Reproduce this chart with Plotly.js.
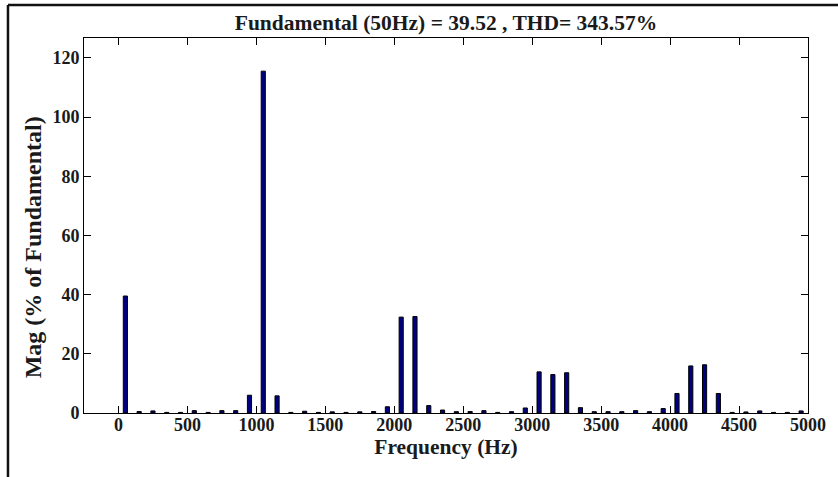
<!DOCTYPE html>
<html>
<head>
<meta charset="utf-8">
<script src="https://cdn.plot.ly/plotly-3.0.1.min.js"></script>
<style>
  html, body { margin: 0; padding: 0; background: #fff; }
  #chart { width: 838px; height: 477px; }
</style>
</head>
<body>
<div id="chart"></div>
<script>
// Harmonic spectrum: odd harmonics of 50 Hz, magnitude in % of fundamental
const freqHz = [
  50, 150, 250, 350, 450, 550, 650, 750, 850, 950,
  1050, 1150, 1250, 1350, 1450, 1550, 1650, 1750, 1850, 1950,
  2050, 2150, 2250, 2350, 2450, 2550, 2650, 2750, 2850, 2950,
  3050, 3150, 3250, 3350, 3450, 3550, 3650, 3750, 3850, 3950,
  4050, 4150, 4250, 4350, 4450, 4550, 4650, 4750, 4850, 4950
];
const magPct = [
  39.52, 0.5, 0.7, 0.2, 0.2, 0.8, 0.2, 0.8, 0.8, 6.0,
  115.5, 5.8, 0.2, 0.6, 0.2, 0.4, 0.2, 0.4, 0.5, 2.1,
  32.4, 32.6, 2.5, 1.0, 0.45, 0.5, 0.8, 0.2, 0.45, 1.7,
  13.9, 13.0, 13.6, 1.8, 0.45, 0.45, 0.45, 0.8, 0.45, 1.5,
  6.6, 15.9, 16.3, 6.6, 0.2, 0.35, 0.7, 0.2, 0.2, 0.7
];
const xTicks = [0, 500, 1000, 1500, 2000, 2500, 3000, 3500, 4000, 4500, 5000];
const yTicks = [0, 20, 40, 60, 80, 100, 120];
const titleText = 'Fundamental (50Hz) = 39.52 , THD= 343.57%';
const xLabel = 'Frequency (Hz)';
const yLabel = 'Mag (% of Fundamental)';

const serif = 'Liberation Serif, Times New Roman, serif';
const ink = '#1a1a1a';

const trace = {
  type: 'bar',
  x: freqHz,
  y: magPct,
  width: 30,
  marker: { color: '#000080', line: { color: '#000000', width: 1 } },
  hoverinfo: 'x+y'
};

const axisCommon = {
  showline: true,
  linecolor: '#000',
  linewidth: 1,
  mirror: 'ticks',
  ticks: 'inside',
  ticklen: 7,
  tickwidth: 1,
  tickcolor: '#000',
  showgrid: false,
  zeroline: false,
  tickfont: { family: serif, size: 18, color: ink, weight: 'bold' }
};

const layout = {
  width: 838,
  height: 477,
  paper_bgcolor: '#fff',
  plot_bgcolor: '#fff',
  margin: { l: 84, r: 30, t: 38, b: 63.5 },
  showlegend: false,
  font: { family: serif, color: ink, weight: 'bold' },
  title: {
    text: titleText,
    font: { family: serif, size: 21.5, color: ink, weight: 'bold' },
    x: 0.5, xref: 'paper', xanchor: 'center',
    y: 0.952, yref: 'container', yanchor: 'middle'
  },
  xaxis: Object.assign({}, axisCommon, {
    range: [-250, 5000],
    tickmode: 'array',
    tickvals: xTicks,
    ticktext: xTicks.map(String),
    ticklabelstandoff: -5,
    title: { text: xLabel, font: { family: serif, size: 21.5, color: ink, weight: 'bold' }, standoff: 0 }
  }),
  yaxis: Object.assign({}, axisCommon, {
    range: [0, 126.7],
    tickmode: 'array',
    tickvals: yTicks,
    ticktext: yTicks.map(String)
  }),
  annotations: [
    // vertical axis label, sitting a little below the axis midpoint
    { text: yLabel, textangle: -90, showarrow: false,
      xref: 'paper', yref: 'paper', x: -0.0704, y: 0.442,
      xanchor: 'center', yanchor: 'middle',
      font: { family: serif, size: 24, color: ink, weight: 'bold' } }
  ],
  shapes: [
    // outer figure frame (top and left edges)
    { type: 'line', xref: 'paper', yref: 'paper', x0: -0.105, x1: 1.2, y0: 1.088, y1: 1.088,
      line: { color: '#111', width: 2.5 } },
    { type: 'line', xref: 'paper', yref: 'paper', x0: -0.105, x1: -0.105, y0: 1.088, y1: -0.3,
      line: { color: '#111', width: 2.5 } }
  ]
};

Plotly.newPlot('chart', [trace], layout, { displayModeBar: false, staticPlot: true });
</script>
</body>
</html>
